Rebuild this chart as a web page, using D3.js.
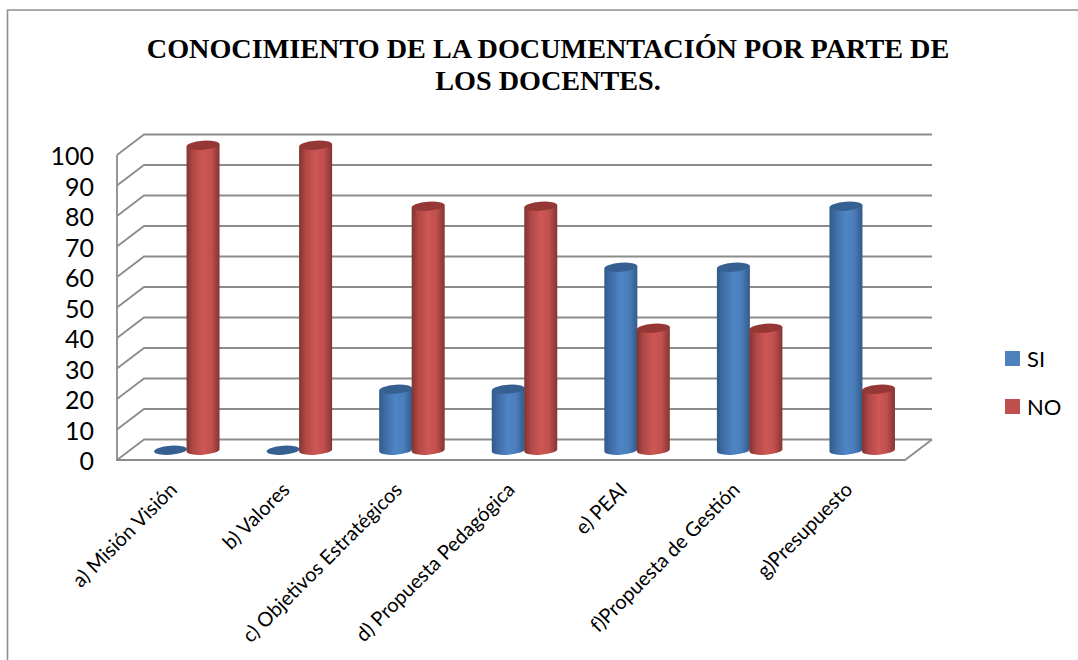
<!DOCTYPE html>
<html>
<head>
<meta charset="utf-8">
<script src="https://cdn.jsdelivr.net/npm/d3@7"></script>
<style>
    body { margin: 0; background: #fff; }
    svg { display: block; }
</style>
</head>
<body>
<div id="chart"></div>
<script>
const categories = ["a) Misión Visión", "b) Valores", "c) Objetivos Estratégicos", "d) Propuesta Pedagógica", "e) PEAI", "f)Propuesta de Gestión", "g)Presupuesto"];
const seriesNames = ["SI", "NO"];
const valuesSi = [0, 0, 20, 20, 60, 60, 80];
const valuesNo = [100, 100, 80, 80, 40, 40, 20];
const yTicks = [0, 10, 20, 30, 40, 50, 60, 70, 80, 90, 100];
const titleLines = ["CONOCIMIENTO DE LA DOCUMENTACIÓN POR PARTE DE", "LOS DOCENTES."];

const width = 1078;
const height = 660;
const gridColor = "#8c8c8c";

// profondeur de la fausse 3D
const depthX = 27;
const depthY = 20.5;
const barRx = 16.5;
const barRy = 4.5;
const tilt = 1.2; // les ellipses penchent un peu vers la droite

const svg = d3.select("#chart").append("svg")
    .attr("width", width)
    .attr("height", height);

const x = d3.scaleBand().domain(categories).range([117, 905]);
const series = d3.scaleBand().domain(seriesNames).range([0, 65]);
const y = d3.scaleLinear().domain([0, 100]).range([460, 155]);

const colors = {
    SI: { side: ["#335a8a", "#3f6ea6", "#4f85c6", "#4a7dba", "#335a8a"], top: "#376092", flat: "#4f81bd" },
    NO: { side: ["#803432", "#b04846", "#cd5755", "#c0504e", "#843533"], top: "#953735", flat: "#c0504d" }
};

const defs = svg.append("defs");
seriesNames.forEach(name => {
    const grad = defs.append("linearGradient").attr("id", "cyl" + name);
    [0, 0.2, 0.5, 0.75, 1].forEach((o, i) => {
        grad.append("stop").attr("offset", o).attr("stop-color", colors[name].side[i]);
    });
});

// cadre
svg.append("path")
    .attr("d", `M7.5,${height}V10H${width}`)
    .attr("fill", "none")
    .attr("stroke", "#8f8f8f")
    .attr("stroke-width", 1.6);

// titre
svg.append("g").selectAll("text")
    .data(titleLines)
    .join("text")
    .attr("x", 548)
    .attr("y", (d, i) => 58 + i * 32)
    .attr("text-anchor", "middle")
    .attr("font-family", "Liberation Serif")
    .attr("font-weight", "bold")
    .attr("font-size", 28.2)
    .attr("fill", "#000")
    .text(d => d);

// grille et murs
const grid = svg.append("g")
    .attr("fill", "none")
    .attr("stroke", gridColor)
    .attr("stroke-width", 1.8);

grid.selectAll("path.tick")
    .data(yTicks)
    .join("path")
    .attr("class", "tick")
    .attr("d", d => `M${x.range()[0]},${y(d)}l${depthX},${-depthY}H${x.range()[1] + depthX}`);

grid.append("path")
    .attr("d", `M${x.range()[0]},${y(100)}V${y(0)}H${x.range()[1]}l${depthX},${-depthY}`);

// barres
const barData = categories.flatMap((c, i) => [
    { cat: c, name: "SI", value: valuesSi[i] },
    { cat: c, name: "NO", value: valuesNo[i] }
]);

const bars = svg.append("g").selectAll("g")
    .data(barData)
    .join("g")
    .attr("transform", d => `translate(${x(d.cat) + x.bandwidth() / 2 + series(d.name) + series.bandwidth() / 2 - series.range()[1] / 2 + depthX / 2},${0.5 - depthY / 2})`);

bars.filter(d => d.value > 0).append("path")
    .attr("fill", d => `url(#cyl${d.name})`)
    .attr("d", d => `M${-barRx},${y(d.value) + tilt}V${y(0) + tilt}A${barRx},${barRy} -4 0 0 ${barRx},${y(0) - tilt}V${y(d.value) - tilt}Z`);

bars.append("ellipse")
    .attr("cy", d => y(d.value))
    .attr("rx", barRx)
    .attr("ry", barRy)
    .attr("transform", d => `rotate(-4 0 ${y(d.value)})`)
    .attr("fill", d => colors[d.name].top);

// axes
const yAxis = svg.append("g")
    .attr("transform", "translate(117,1.5)")
    .call(d3.axisLeft(y).tickValues(yTicks).tickSize(0).tickPadding(23));
yAxis.select(".domain").remove();
yAxis.selectAll("text")
    .attr("font-family", "Lato")
    .attr("font-size", 25)
    .attr("fill", "#000");

const xAxis = svg.append("g")
    .attr("transform", "translate(0,460)")
    .call(d3.axisBottom(x).tickSize(0).tickPadding(0));
xAxis.select(".domain").remove();
xAxis.selectAll("text")
    .attr("font-family", "Lato")
    .attr("font-size", 20)
    .attr("fill", "#000")
    .attr("text-anchor", "end")
    .attr("dy", 0)
    .attr("y", 0)
    .attr("transform", "translate(5,31) rotate(-45)");

// légende
const legend = svg.append("g").selectAll("g")
    .data(seriesNames)
    .join("g")
    .attr("transform", (d, i) => `translate(1005,${351 + i * 48})`);

legend.append("rect")
    .attr("width", 15)
    .attr("height", 15)
    .attr("fill", d => colors[d].flat);

legend.append("text")
    .attr("x", 22)
    .attr("y", 15.5)
    .attr("font-family", "Lato")
    .attr("font-size", 22)
    .attr("fill", "#000")
    .text(d => d);
</script>
</body>
</html>
